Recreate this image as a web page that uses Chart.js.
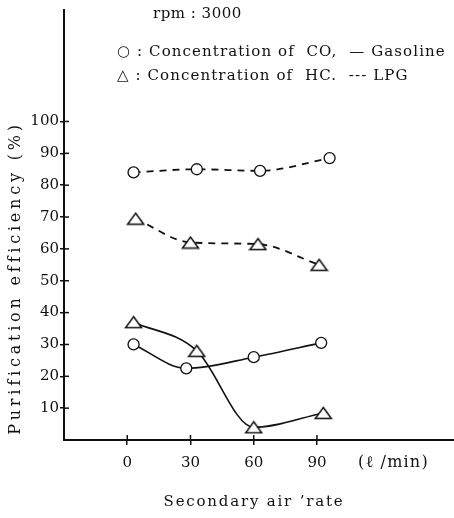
<!DOCTYPE html>
<html>
<head>
<meta charset="utf-8">
<script src="https://cdn.jsdelivr.net/npm/chart.js@4"></script>
<style>
  html, body { margin: 0; padding: 0; background: #fff; }
  #wrap { width: 454px; height: 518px; position: relative; }
</style>
</head>
<body>
<div id="wrap"><canvas id="chart"></canvas></div>
<script>
// values
const xTicks = [0, 30, 60, 90];
const yTicks = [10, 20, 30, 40, 50, 60, 70, 80, 90, 100];

const coGasX = [3, 28, 60, 92];
const coGasY = [30, 22.5, 26, 30.5];
const hcGasX = [3, 33, 60, 93];
const hcGasY = [37, 28, 4, 8.5];
const coLpgX = [3, 33, 63, 96];
const coLpgY = [84, 85, 84.5, 88.5];
const hcLpgX = [4, 30, 62, 91];
const hcLpgY = [69.5, 62, 61.5, 55];

const FONT = '"DejaVu Serif", "Liberation Serif", serif';
const INK = '#111';

function pts(xs, ys) {
    return xs.map((x, i) => ({ x: x, y: ys[i] }));
}

// flat open triangle marker
function makeTriangle() {
    const c = document.createElement('canvas');
    c.width = 19; c.height = 14;
    const g = c.getContext('2d');
    g.fillStyle = '#fff';
    g.strokeStyle = INK;
    g.lineWidth = 1.5;
    g.beginPath();
    g.moveTo(9.5, 1.5);
    g.lineTo(17.5, 12.5);
    g.lineTo(1.5, 12.5);
    g.closePath();
    g.fill();
    g.stroke();
    return c;
}
const tri = makeTriangle();

function series(data, dashed, marker) {
    return {
        data: data,
        borderColor: INK,
        borderWidth: dashed ? 1.8 : 1.6,
        borderDash: dashed ? [7, 6] : [],
        cubicInterpolationMode: 'monotone',
        fill: false,
        pointStyle: marker === 'tri' ? tri : 'circle',
        pointRadius: 5.5,
        pointBorderWidth: 1.3,
        pointBorderColor: INK,
        pointBackgroundColor: '#fff'
    };
}

const textPlugin = {
    id: 'texts',
    afterDraw(chart) {
        const ctx = chart.ctx;
        const xs = chart.scales.x, ys = chart.scales.y;
        ctx.save();
        ctx.fillStyle = INK;
        ctx.strokeStyle = INK;

        // inner half of the cross-shaped tick marks
        ctx.lineWidth = 1.5;
        yTicks.forEach(v => {
            const py = ys.getPixelForValue(v);
            ctx.beginPath();
            ctx.moveTo(xs.left, py);
            ctx.lineTo(xs.left + 5, py);
            ctx.stroke();
        });
        xTicks.forEach(v => {
            const px = xs.getPixelForValue(v);
            ctx.beginPath();
            ctx.moveTo(px, ys.bottom);
            ctx.lineTo(px, ys.bottom - 5);
            ctx.stroke();
        });

        ctx.textBaseline = 'middle';
        ctx.textAlign = 'left';
        ctx.font = '15px ' + FONT;
        ctx.letterSpacing = '0.5px';
        ctx.fillText('rpm : 3000', 153, 14);

        ctx.letterSpacing = '1.1px';
        ctx.fillText('\u25CB : Concentration of  CO,  \u2014 Gasoline', 117, 52);
        ctx.fillText('\u25B3 : Concentration of  HC.  --- LPG', 117, 76);

        // unit label on the x axis
        ctx.font = '16px ' + FONT;
        ctx.letterSpacing = '1.2px';
        ctx.fillText('(\u2113 /min)', 358, 463);

        // x axis title
        ctx.textAlign = 'center';
        ctx.font = '15px ' + FONT;
        ctx.letterSpacing = '1.8px';
        ctx.fillText('Secondary air \u2019rate', 254, 502);

        // y axis title
        ctx.translate(16, 278);
        ctx.rotate(-Math.PI / 2);
        ctx.font = '16px ' + FONT;
        ctx.letterSpacing = '3.8px';
        ctx.fillText('Purification efficiency (%)', 0, 0);
        ctx.restore();
    }
};

new Chart(document.getElementById('chart'), {
    type: 'line',
    data: {
        datasets: [
            series(pts(coLpgX, coLpgY), true, 'circle'),
            series(pts(hcLpgX, hcLpgY), true, 'tri'),
            series(pts(hcGasX, hcGasY), false, 'tri'),
            series(pts(coGasX, coGasY), false, 'circle')
        ]
    },
    options: {
        responsive: true,
        maintainAspectRatio: false,
        animation: false,
        layout: { autoPadding: false, padding: { top: 10, right: 0, left: 0, bottom: 0 } },
        plugins: {
            legend: { display: false },
            tooltip: { enabled: false }
        },
        scales: {
            x: {
                type: 'linear',
                min: -30,
                max: 155,
                afterBuildTicks: s => { s.ticks = xTicks.map(v => ({ value: v })); },
                afterFit: s => { s.height = 78; },
                grid: { drawOnChartArea: false, tickLength: 5, color: INK, lineWidth: 1.5 },
                border: { color: INK, width: 2 },
                ticks: { color: INK, padding: 9, font: { family: FONT, size: 15 } }
            },
            y: {
                min: 0,
                max: 135,
                afterBuildTicks: s => { s.ticks = yTicks.map(v => ({ value: v })); },
                afterFit: s => { s.width = 64; },
                grid: { drawOnChartArea: false, tickLength: 4, color: INK, lineWidth: 1.5 },
                border: { color: INK, width: 2 },
                ticks: { color: INK, padding: 1, font: { family: FONT, size: 15 } }
            }
        }
    },
    plugins: [textPlugin]
});
</script>
</body>
</html>
